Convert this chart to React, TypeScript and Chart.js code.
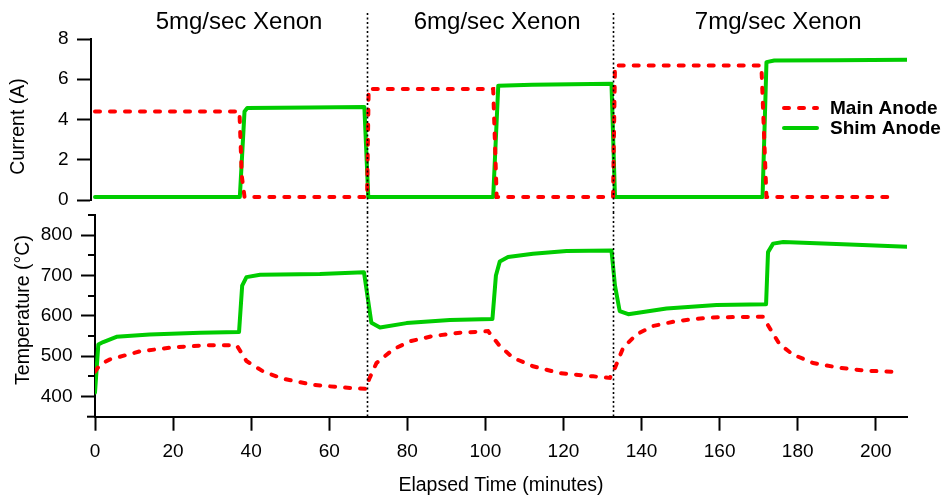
import React, { useEffect, useRef } from "react";
import { Chart, registerables } from "chart.js";

Chart.register(...registerables);

// ---------- data ----------
// Top panel: anode currents (A) vs elapsed time (minutes)
const mainCurrentTime = [0, 37.0, 37.6, 38.3, 69.7, 70.1, 102.0, 102.9, 132.7, 133.2, 170.7, 172.0, 205.3];
const mainCurrentValue = [4.4, 4.4, 1.2, 0.15, 0.15, 5.52, 5.52, 0.15, 0.15, 6.68, 6.68, 0.15, 0.15];

const shimCurrentTime = [0, 37.1, 38.3, 39.0, 55, 69.0, 70.0, 102.0, 103.3, 112, 132.3, 133.2, 171.0, 172.0, 174, 190, 208];
const shimCurrentValue = [0.15, 0.15, 4.4, 4.57, 4.6, 4.62, 0.15, 0.15, 5.68, 5.73, 5.78, 0.15, 0.15, 6.85, 6.93, 6.95, 6.97];

// Bottom panel: temperatures (°C) vs elapsed time (minutes)
const shimTempTime = [0, 0.85, 2.1, 5.5, 14, 27, 36.9, 37.7, 38.8, 42.3, 57.6, 68.9, 70.8, 73, 79.8, 90.9, 101.8, 102.7, 103.7, 105.8, 112.2, 120.8, 132.3, 133.2, 134.4, 136.6, 146.4, 159.2, 171.9, 172.4, 173.7, 176.3, 193.3, 208];
const shimTempValue = [410, 529, 535, 548, 554, 558, 560, 675, 696, 702, 704, 708, 583, 571, 582, 590, 592, 700, 735, 746, 754, 761, 762, 675, 612, 604, 618, 627, 629, 758, 779, 783, 777, 771];

const mainTempTime = [0, 1.3, 3.8, 11.5, 20, 28.6, 36.3, 38.8, 43.1, 48.2, 55.9, 62.7, 69.3, 70.3, 72.1, 76.4, 80.7, 86.6, 93.5, 100.7, 103.7, 107.1, 112.2, 119.1, 127.6, 131.9, 133.2, 135.3, 138.7, 143, 149, 157.5, 171.1, 173.3, 175.4, 178.8, 184, 190.8, 197.6, 205.3];
const mainTempValue = [462, 479, 492, 512, 522, 527, 527, 488, 462, 444, 429, 423, 419, 445, 483, 517, 537, 550, 558, 562, 525, 496, 475, 458, 450, 446, 471, 521, 554, 575, 587, 596, 598, 562, 529, 504, 483, 471, 464, 461];

// Axis ticks
const timeTicks = [0, 20, 40, 60, 80, 100, 120, 140, 160, 180, 200];
const currentTicks = [0, 2, 4, 6, 8];
const tempTicks = [400, 500, 600, 700, 800];
const tempMinorTicks = [450, 550, 650, 750, 850];

// Flow-rate segments
const separatorTimes = [69.6, 132.7];
const segmentLabels = ["5mg/sec Xenon", "6mg/sec Xenon", "7mg/sec Xenon"];
const segmentLabelTimes = [36.9, 103.0, 175.0];

// ---------- styles ----------
const FONT = '"Liberation Sans", Arial, Helvetica, sans-serif';
const RED = "rgb(255,0,0)";
const GREEN = "rgb(0,204,0)";
const BLACK = "#000";
const RED_DASH = [5, 10];

const pts = (t: number[], v: number[]) => t.map((x, i) => ({ x, y: v[i] }));

function drawSeparators(chart: any, y0: number, y1: number) {
  const ctx = chart.ctx;
  const xs = chart.scales.x;
  ctx.save();
  ctx.strokeStyle = BLACK;
  ctx.lineWidth = 1.6;
  ctx.setLineDash([2, 2.5]);
  separatorTimes.forEach((t) => {
    const px = Math.round(xs.getPixelForValue(t)) + 0.5;
    ctx.beginPath();
    ctx.moveTo(px, y0);
    ctx.lineTo(px, y1);
    ctx.stroke();
  });
  ctx.restore();
}

function drawYTitle(chart: any, text: string, x: number, y: number) {
  const ctx = chart.ctx;
  ctx.save();
  ctx.translate(x, y);
  ctx.rotate(-Math.PI / 2);
  ctx.fillStyle = BLACK;
  ctx.font = `19.5px ${FONT}`;
  ctx.textAlign = "center";
  ctx.textBaseline = "middle";
  ctx.fillText(text, 0, 0);
  ctx.restore();
}

const topOverlay = {
  id: "topOverlay",
  afterDatasetsDraw(chart: any) {
    const ctx = chart.ctx;
    const xs = chart.scales.x;
    drawSeparators(chart, 13, chart.height);
    drawYTitle(chart, "Current (A)", 19, 126.5);
    // segment titles
    ctx.save();
    ctx.fillStyle = BLACK;
    ctx.font = `24px ${FONT}`;
    ctx.textAlign = "center";
    ctx.textBaseline = "alphabetic";
    segmentLabels.forEach((s, i) => {
      ctx.fillText(s, xs.getPixelForValue(segmentLabelTimes[i]), 28.5);
    });
    ctx.restore();
    // legend
    ctx.save();
    chart.data.datasets.forEach((ds: any, i: number) => {
      const y = 108 + i * 20;
      ctx.strokeStyle = ds.borderColor;
      ctx.lineWidth = ds.borderWidth;
      ctx.lineCap = ds.borderCapStyle || "butt";
      ctx.setLineDash(ds.borderDash || []);
      ctx.beginPath();
      ctx.moveTo(784, y);
      ctx.lineTo(817, y);
      ctx.stroke();
      ctx.setLineDash([]);
      ctx.fillStyle = BLACK;
      ctx.font = `bold 19px ${FONT}`;
      ctx.textAlign = "left";
      ctx.textBaseline = "middle";
      ctx.fillText(ds.label, 830, y + 1);
    });
    ctx.restore();
  },
};

const bottomOverlay = {
  id: "bottomOverlay",
  afterDatasetsDraw(chart: any) {
    const ctx = chart.ctx;
    const ys = chart.scales.y;
    const area = chart.chartArea;
    drawSeparators(chart, 0, area.bottom);
    drawYTitle(chart, "Temperature (°C)", 24, 310 - 212);
    ctx.save();
    ctx.strokeStyle = BLACK;
    ctx.lineWidth = 2;
    // minor ticks on temperature axis
    tempMinorTicks.forEach((v) => {
      const py = Math.round(ys.getPixelForValue(v));
      ctx.beginPath();
      ctx.moveTo(area.left - 7, py);
      ctx.lineTo(area.left, py);
      ctx.stroke();
    });
    // x-axis line extends slightly left of the y spine
    ctx.beginPath();
    ctx.moveTo(area.left - 8, area.bottom);
    ctx.lineTo(area.left, area.bottom);
    ctx.stroke();
    ctx.restore();
  },
};

const tickFont = { size: 19, family: FONT };
const titleFont = { size: 19.5, family: FONT };

export default function App() {
  const topRef = useRef<HTMLCanvasElement | null>(null);
  const botRef = useRef<HTMLCanvasElement | null>(null);

  useEffect(() => {
    Chart.defaults.font.family = FONT;
    Chart.defaults.color = BLACK;

    const redStyle = {
      borderColor: RED,
      borderWidth: 4,
      borderDash: RED_DASH,
      borderCapStyle: "round",
      pointRadius: 0,
      fill: false,
      tension: 0,
    };
    const greenStyle = {
      borderColor: GREEN,
      borderWidth: 4,
      borderCapStyle: "round",
      borderJoinStyle: "round",
      pointRadius: 0,
      fill: false,
      tension: 0,
    };

    const yGrid = {
      display: true,
      drawOnChartArea: false,
      drawTicks: true,
      tickLength: 14,
      tickWidth: 2,
      tickColor: BLACK,
    };

    const top = new Chart(topRef.current as HTMLCanvasElement, {
      type: "line",
      data: {
        datasets: [
          { label: "Main Anode", data: pts(mainCurrentTime, mainCurrentValue), ...redStyle } as any,
          { label: "Shim Anode", data: pts(shimCurrentTime, shimCurrentValue), ...greenStyle } as any,
        ],
      },
      options: {
        responsive: false,
        animation: false,
        layout: { padding: { top: 39, right: 38, bottom: 12, left: 0 } },
        plugins: { legend: { display: false }, tooltip: { enabled: false } },
        scales: {
          x: { type: "linear", min: -1.024, max: 208, display: false },
          y: {
            type: "linear",
            min: 0,
            max: 8,
            afterBuildTicks: (s: any) => {
              s.ticks = currentTicks.map((v) => ({ value: v }));
            },
            afterFit: (s: any) => {
              s.width = 91;
              s.paddingTop = 0;
              s.paddingBottom = 0;
            },
            grid: yGrid,
            border: { display: true, color: BLACK, width: 2 },
            ticks: { color: BLACK, font: tickFont, padding: 8.5 },
            title: { display: false, text: "Current (A)" },
          },
        },
      } as any,
      plugins: [topOverlay],
    });

    const bottom = new Chart(botRef.current as HTMLCanvasElement, {
      type: "line",
      data: {
        datasets: [
          { label: "Main Anode", data: pts(mainTempTime, mainTempValue), ...redStyle } as any,
          { label: "Shim Anode", data: pts(shimTempTime, shimTempValue), ...greenStyle } as any,
        ],
      },
      options: {
        responsive: false,
        animation: false,
        layout: { padding: { top: 3, right: 38, bottom: 0, left: 0 } },
        plugins: { legend: { display: false }, tooltip: { enabled: false } },
        scales: {
          x: {
            type: "linear",
            min: 0,
            max: 208,
            afterBuildTicks: (s: any) => {
              s.ticks = timeTicks.map((v) => ({ value: v }));
            },
            afterFit: (s: any) => {
              s.height = 78.3;
              s.paddingLeft = 0;
              s.paddingRight = 0;
            },
            grid: yGrid,
            border: { display: true, color: BLACK, width: 2 },
            ticks: { color: BLACK, font: tickFont, padding: 10, maxRotation: 0, autoSkip: false },
            title: {
              display: true,
              text: "Elapsed Time (minutes)",
              color: BLACK,
              font: { ...titleFont, lineHeight: 1 },
              padding: { top: 0, bottom: 0 },
            },
          },
          y: {
            type: "linear",
            min: 350,
            max: 850,
            afterBuildTicks: (s: any) => {
              s.ticks = tempTicks.map((v) => ({ value: v }));
            },
            afterFit: (s: any) => {
              s.width = 95;
              s.paddingTop = 0;
              s.paddingBottom = 0;
            },
            grid: yGrid,
            border: { display: true, color: BLACK, width: 2 },
            ticks: { color: BLACK, font: tickFont, padding: 8.5 },
            title: { display: false, text: "Temperature (°C)" },
          },
        },
      } as any,
      plugins: [bottomOverlay],
    });

    return () => {
      top.destroy();
      bottom.destroy();
    };
  }, []);

  return (
    <div style={{ position: "absolute", left: 0, top: 0, width: 945, height: 495, background: "#fff" }}>
      <canvas
        ref={topRef}
        width={945}
        height={212}
        style={{ position: "absolute", left: 0, top: 0, width: 945, height: 212, display: "block" }}
      />
      <canvas
        ref={botRef}
        width={945}
        height={283}
        style={{ position: "absolute", left: 0, top: 212, width: 945, height: 283, display: "block" }}
      />
    </div>
  );
}
